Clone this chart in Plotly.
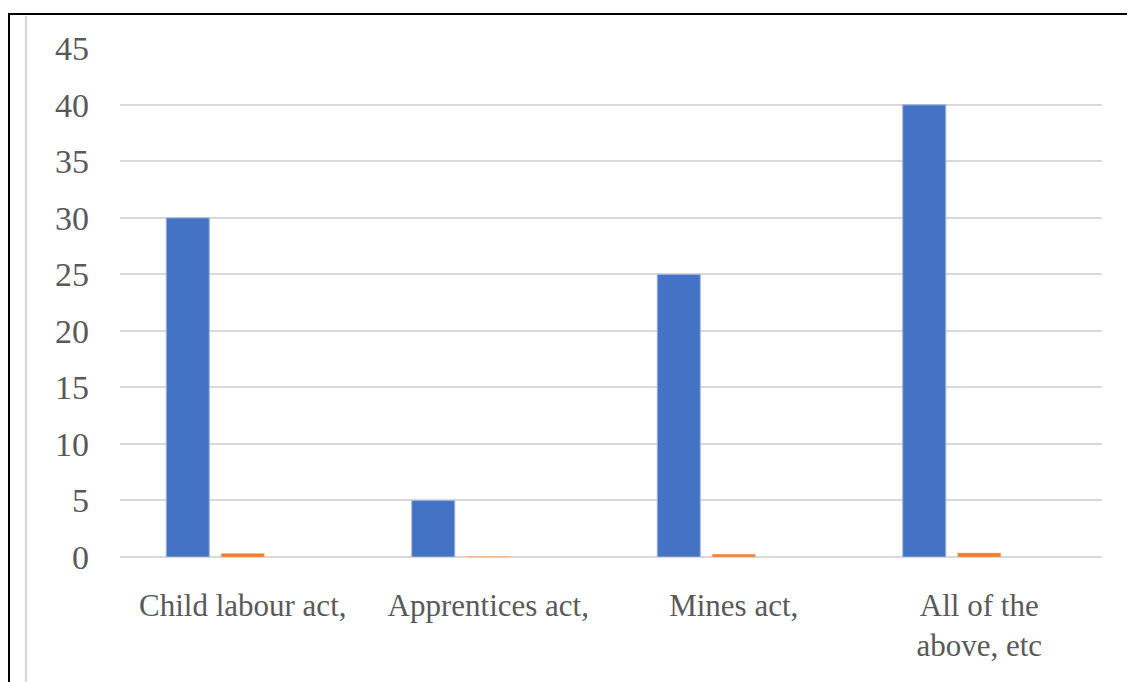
import plotly.graph_objects as go

categories = ["Child labour act,", "Apprentices act,", "Mines act,", "All of the<br>above, etc"]
series1 = [30, 5, 25, 40]
series2 = [0.3, 0.05, 0.25, 0.35]
series3 = [0, 0, 0, 0]
y_ticks = [0, 5, 10, 15, 20, 25, 30, 35, 40, 45]

# page has an 8px body margin, so the figure sits at (8, 8) in the window
OFF = 8
W, H = 1135 - OFF, 682 - OFF
L, R, T, B = 120 - OFF, 33, 48 - OFF, 125
pw, ph = W - L - R, H - T - B

def px_x(p):
    return (p - OFF - L) / pw

def px_y(p):
    return (H - B - (p - OFF)) / ph

fig = go.Figure()
fig.add_trace(go.Bar(x=categories, y=series1, name="Series 1",
                     marker=dict(color="#4472C4", line=dict(color="#9db3e0", width=1))))
fig.add_trace(go.Bar(x=categories, y=series2, name="Series 2",
                     marker=dict(color="#ED7D31", line=dict(color="#f5b48a", width=0.5))))
fig.add_trace(go.Bar(x=categories, y=series3, name="Series 3",
                     marker=dict(color="#A5A5A5", line=dict(width=0))))

fig.update_layout(
    width=W, height=H,
    margin=dict(l=L, r=R, t=T, b=B),
    paper_bgcolor="white", plot_bgcolor="white",
    barmode="group", bargap=0.328, bargroupgap=0.218,
    showlegend=False,
    font=dict(family="Liberation Serif", color="#595959"),
    xaxis=dict(showgrid=False, showline=False, ticks="", tickfont=dict(size=31, color="#595959"),
               ticklabelstandoff=27),
    yaxis=dict(range=[0, 45.03], tickvals=y_ticks, showgrid=True, gridcolor="#d9d9d9", gridwidth=1.5,
               zeroline=True, zerolinecolor="#d9d9d9", zerolinewidth=2, showline=False, ticks="",
               tickfont=dict(size=34, color="#595959"), ticklabelstandoff=30),
    shapes=[
        dict(type="line", xref="paper", yref="paper", x0=px_x(26), x1=px_x(26), y0=px_y(16), y1=px_y(700),
             line=dict(color="#d9d9d9", width=2.5)),
        dict(type="line", xref="paper", yref="paper", x0=px_x(1131), x1=px_x(1131), y0=px_y(16), y1=px_y(700),
             line=dict(color="#d9d9d9", width=2.5)),
        dict(type="line", xref="paper", yref="paper", x0=px_x(9), x1=px_x(9), y0=px_y(14), y1=px_y(700),
             line=dict(color="black", width=2)),
        dict(type="line", xref="paper", yref="paper", x0=px_x(8), x1=px_x(1131), y0=px_y(14), y1=px_y(14),
             line=dict(color="black", width=2)),
    ],
)

fig.write_html("out.html")
